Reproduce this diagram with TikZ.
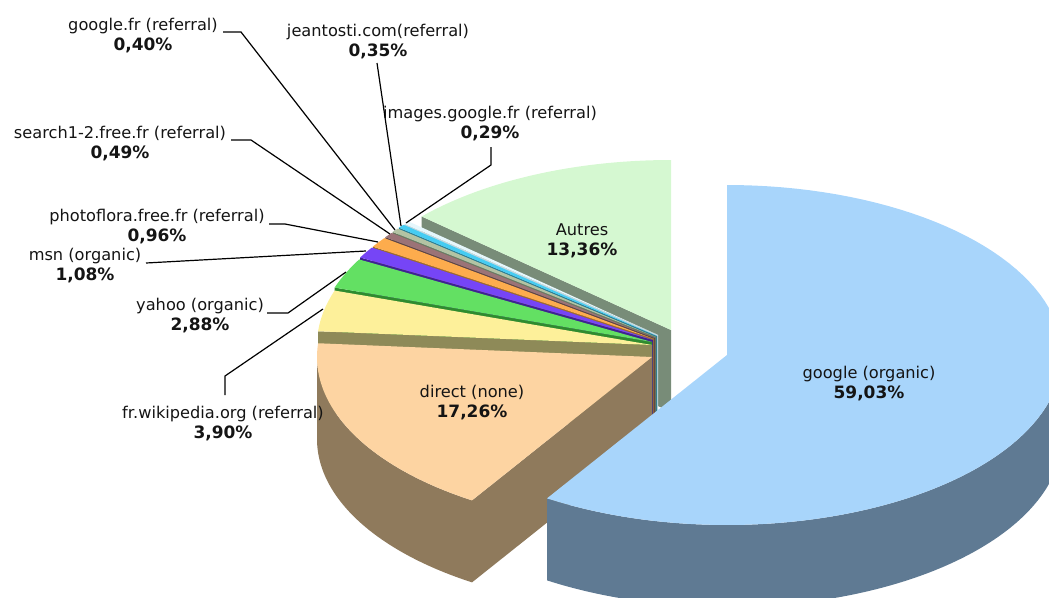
\documentclass[tikz,border=0pt]{standalone}
\usepackage{fontspec}
\setmainfont{DejaVu Sans}
\definecolor{googleT}{HTML}{A8D5FB}\definecolor{googleS}{HTML}{5F7A93}
\definecolor{directT}{HTML}{FDD4A2}\definecolor{directS}{HTML}{8F7A5C}
\definecolor{wikiT}{HTML}{FDF09A}\definecolor{wikiS}{HTML}{8E8A58}
\definecolor{yahooT}{HTML}{63E063}\definecolor{yahooS}{HTML}{2F8B2F}
\definecolor{msnT}{HTML}{7645F6}\definecolor{msnS}{HTML}{3E2391}
\definecolor{photoT}{HTML}{FDAC4D}\definecolor{photoS}{HTML}{9A6A2E}
\definecolor{searchT}{HTML}{9B7377}\definecolor{searchS}{HTML}{5B4346}
\definecolor{gfrT}{HTML}{B3C3A3}\definecolor{gfrS}{HTML}{6B795F}
\definecolor{jeanT}{HTML}{45CCF2}\definecolor{jeanS}{HTML}{2A7D93}
\definecolor{imgT}{HTML}{E6F7FC}\definecolor{imgS}{HTML}{C0D8E0}
\definecolor{autresT}{HTML}{D5F8D1}\definecolor{autresS}{HTML}{788C78}
% radial side face: apex x, apex y, angle, colour
\newcommand\sliceside[4]{%
  \fill[#4] (#1,#2) -- ({#1+335*cos(#3)},{#2-170*sin(#3)}) -- ++(0,82) -- (#1,{#2+82}) -- cycle;}
% top face: apex x, apex y, start angle, end angle, colour
\newcommand\slicetop[5]{%
  \fill[#5] (#1,#2) -- plot[domain=#3:#4,samples=90] ({#1+335*cos(\x)},{#2-170*sin(\x)}) -- cycle;}
% outer curved side: apex x, apex y, start angle, end angle, colour
\newcommand\slicecurve[5]{%
  \fill[#5] plot[domain=#3:#4,samples=90] ({#1+335*cos(\x)},{#2-170*sin(\x)})
    -- plot[domain=#4:#3,samples=90] ({#1+335*cos(\x)},{#2+82-170*sin(\x)}) -- cycle;}
\newcommand\pct[1]{{\fontsize{17}{20}\selectfont\bfseries #1}}
\tikzset{
  lbl/.style={font=\fontsize{16.2}{20}\selectfont, align=center, inner sep=0pt, text=black!92},
  leader/.style={line width=1.2pt, black}
}
\begin{document}
\begin{tikzpicture}[x=1pt,y=-1pt]
\useasboundingbox (0,0) rectangle (1049,597);
\clip (0,0) rectangle (1049,597);
% Autres
\sliceside{671}{330}{138.10}{autresS}
\slicetop{671}{330}{90}{138.10}{autresT}
% images.google.fr
\sliceside{658}{335}{139.14}{imgS}
\slicetop{658}{335}{138.10}{139.14}{imgT}
% jeantosti
\sliceside{657}{336}{140.40}{jeanS}
\slicetop{657}{336}{139.14}{140.40}{jeanT}
% google.fr
\sliceside{656}{337}{141.84}{gfrS}
\slicetop{656}{337}{140.40}{141.84}{gfrT}
% search1-2
\sliceside{655}{338}{143.60}{searchS}
\slicetop{655}{338}{141.84}{143.60}{searchT}
% photoflora
\sliceside{654}{339}{147.06}{photoS}
\slicetop{654}{339}{143.60}{147.06}{photoT}
% msn
\sliceside{653}{340}{150.95}{msnS}
\slicetop{653}{340}{147.06}{150.95}{msnT}
% yahoo
\sliceside{652}{342}{161.32}{yahooS}
\slicetop{652}{342}{150.95}{161.32}{yahooT}
% wikipedia
\sliceside{652}{345}{175.36}{wikiS}
\slicetop{652}{345}{161.32}{175.36}{wikiT}
% direct
\sliceside{652}{357}{237.50}{directS}
\slicecurve{652}{357}{180}{237.50}{directS}
\slicetop{652}{357}{175.36}{237.50}{directT}
% google organic
\slicecurve{727}{355}{237.50}{360}{googleS}
\slicetop{727}{355}{237.50}{450}{googleT}

% labels
\node[lbl] (lgfr)    at (143,36)  {google.fr (referral)\\\pct{0,40\%}};
\node[lbl] (ljean)   at (378,42)  {jeantosti.com(referral)\\\pct{0,35\%}};
\node[lbl] (limg)    at (490,124) {images.google.fr (referral)\\\pct{0,29\%}};
\node[lbl] (lsearch) at (120,144) {search1-2.free.fr (referral)\\\pct{0,49\%}};
\node[lbl] (lphoto)  at (157,227) {photoflora.free.fr (referral)\\\pct{0,96\%}};
\node[lbl] (lmsn)    at (85,266)  {msn (organic)\\\pct{1,08\%}};
\node[lbl] (lyahoo)  at (200,316) {yahoo (organic)\\\pct{2,88\%}};
\node[lbl] (lwiki)   at (223,424) {fr.wikipedia.org (referral)\\\pct{3,90\%}};
\node[lbl] (lautres) at (582,241) {Autres\\\pct{13,36\%}};
\node[lbl] (ldirect) at (472,403) {direct (none)\\\pct{17,26\%}};
\node[lbl] (lgoogle) at (869,384) {google (organic)\\\pct{59,03\%}};

% leader points
\coordinate (gfr1) at (223,32);  \coordinate (gfr2) at (241,32);  \coordinate (gfr3) at (395,230);
\coordinate (jean1) at (377,63); \coordinate (jean2) at (401,226);
\coordinate (img1) at (491,147); \coordinate (img2) at (491,165); \coordinate (img3) at (406,223);
\coordinate (sea1) at (231,140); \coordinate (sea2) at (251,140); \coordinate (sea3) at (390,234);
\coordinate (pho1) at (269,224); \coordinate (pho2) at (285,224); \coordinate (pho3) at (378,242);
\coordinate (msn1) at (146,263); \coordinate (msn2) at (366,251);
\coordinate (yah1) at (267,313); \coordinate (yah2) at (288,313); \coordinate (yah3) at (346,272);
\coordinate (wik1) at (225,395); \coordinate (wik2) at (225,376); \coordinate (wik3) at (323,309);

\draw[leader] (gfr1) -- (gfr2) -- (gfr3);
\draw[leader] (jean1) -- (jean2);
\draw[leader] (img1) -- (img2) -- (img3);
\draw[leader] (sea1) -- (sea2) -- (sea3);
\draw[leader] (pho1) -- (pho2) -- (pho3);
\draw[leader] (msn1) -- (msn2);
\draw[leader] (yah1) -- (yah2) -- (yah3);
\draw[leader] (wik1) -- (wik2) -- (wik3);
\end{tikzpicture}
\end{document}
